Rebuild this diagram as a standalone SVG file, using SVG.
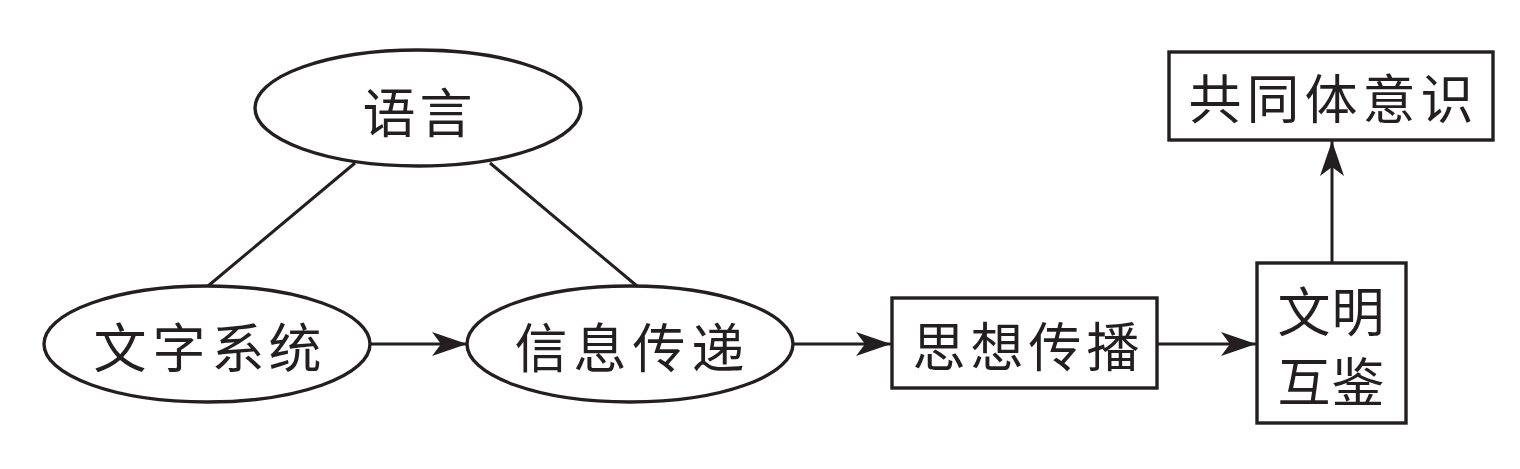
<svg xmlns="http://www.w3.org/2000/svg" width="1520" height="469" viewBox="0 0 1520 469">
<style>
.shape{fill:#fff;stroke:#231f20;stroke-width:3.4}
.edge{fill:none;stroke:#231f20;stroke-width:3}
.lbl{font-family:"Noto Sans CJK SC","Noto Sans CJK JP",sans-serif;font-size:53px;fill:#231f20;text-anchor:middle;dominant-baseline:central}
</style>
<defs>
<marker id="arr" markerUnits="userSpaceOnUse" viewBox="0 0 36 26" refX="35" refY="13" markerWidth="36" markerHeight="26" orient="auto">
<path d="M0,1 L35,13 L0,25 L9,13 Z" fill="#231f20"/>
</marker>
</defs>
<rect width="1520" height="469" fill="#fff"/>
<g id="connectors">
<line class="edge" x1="355" y1="163" x2="208" y2="286"/>
<line class="edge" x1="490" y1="163" x2="637" y2="286"/>
<line class="edge" x1="370" y1="344" x2="467" y2="344" marker-end="url(#arr)"/>
<line class="edge" x1="793" y1="344" x2="891" y2="344" marker-end="url(#arr)"/>
<line class="edge" x1="1157" y1="344" x2="1256" y2="344" marker-end="url(#arr)"/>
<line class="edge" x1="1332" y1="263" x2="1332" y2="141" marker-end="url(#arr)"/>
</g>
<g id="node-yuyan">
<ellipse class="shape" cx="418" cy="108" rx="163" ry="58"/>
<text class="lbl" x="389 446" y="110">语言</text>
</g>
<g id="node-wenzi">
<ellipse class="shape" cx="207" cy="344" rx="163" ry="58"/>
<text class="lbl" x="120 179 238 295" y="345">文字系统</text>
</g>
<g id="node-xinxi">
<ellipse class="shape" cx="630" cy="344" rx="163" ry="58"/>
<text class="lbl" x="541 600 659 718" y="345">信息传递</text>
</g>
<g id="node-sixiang">
<rect class="shape" x="892" y="298" width="265" height="90"/>
<text class="lbl" x="939 997 1055 1113" y="344">思想传播</text>
</g>
<g id="node-wenming">
<rect class="shape" x="1257" y="263" width="149" height="160"/>
<text class="lbl" x="1304 1358" y="309">文明</text>
<text class="lbl" x="1304 1358" y="379">互鉴</text>
</g>
<g id="node-gongtong">
<rect class="shape" x="1169" y="52" width="324" height="88"/>
<text class="lbl" x="1215 1273 1331 1389 1447" y="96">共同体意识</text>
</g>
</svg>
